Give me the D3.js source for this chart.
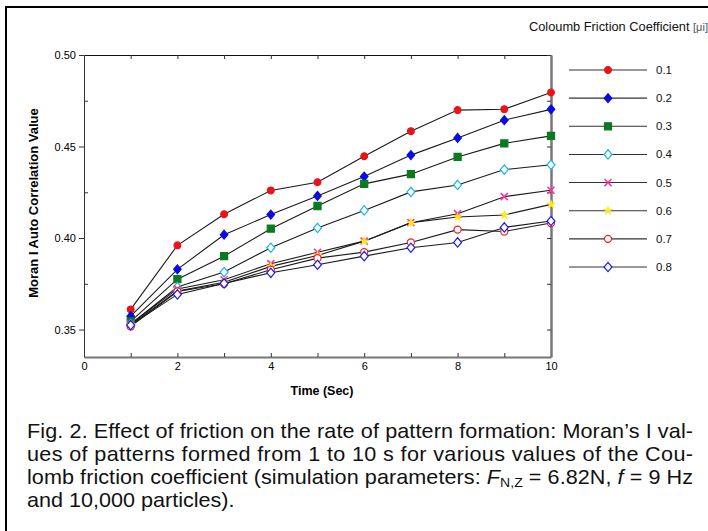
<!DOCTYPE html>
<html><head><meta charset="utf-8">
<script src="https://cdn.jsdelivr.net/npm/d3@7"></script>
<style>body{margin:0;background:#fff}svg{display:block;font-family:"Liberation Sans",Arial,sans-serif}</style>
</head><body><svg id="c" width="708" height="531"></svg>
<script>
const times = [1,2,3,4,5,6,7,8,9,10];
const seriesNames = ["0.1","0.2","0.3","0.4","0.5","0.6","0.7","0.8"];
const mu01 = [0.361,0.396,0.413,0.426,0.4305,0.4447,0.4584,0.4699,0.4704,0.4795];
const mu02 = [0.3573,0.3829,0.4018,0.4128,0.423,0.4336,0.4453,0.4547,0.4644,0.4703];
const mu03 = [0.3545,0.3775,0.3901,0.4051,0.4175,0.4296,0.4349,0.4443,0.4517,0.4558];
const mu04 = [0.353,0.3732,0.3814,0.3947,0.4055,0.4151,0.4252,0.429,0.4374,0.44];
const mu05 = [0.353,0.3722,0.3772,0.386,0.3922,0.3983,0.4084,0.4133,0.4226,0.4261];
const mu06 = [0.3525,0.371,0.3758,0.3845,0.3905,0.3983,0.4084,0.4115,0.4126,0.4184];
const mu07 = [0.3517,0.3708,0.375,0.3827,0.389,0.3923,0.3976,0.4046,0.4036,0.4082];
const mu08 = [0.3524,0.3692,0.3752,0.381,0.3854,0.3901,0.3947,0.3976,0.4058,0.4093];
const xTicks = [0,2,4,6,8,10];
const yTicks = [0.35,0.40,0.45,0.50];
const yMinor = [0.375,0.425,0.475];
const captionLines = [
 "Fig. 2. Effect of friction on the rate of pattern formation: Moran\u2019s I val-",
 "ues of patterns formed from 1 to 10 s for various values of the Cou-",
 "lomb friction coefficient (simulation parameters: ",
 "and 10,000 particles)."
];

const allSeries = [mu01,mu02,mu03,mu04,mu05,mu06,mu07,mu08];
const styles = [
 {shape:"circle", fill:"#e8141c", stroke:"#e8141c", size:36},
 {shape:"diamond", fill:"#0a0ae6", stroke:"#0a0ae6", size:38},
 {shape:"square", fill:"#0a7a1e", stroke:"#0a7a1e", size:50},
 {shape:"diamond", fill:"#fff", stroke:"#1ab4ea", size:42},
 {shape:"cross", fill:"none", stroke:"#ff3399", size:34},
 {shape:"star", fill:"#ffe81a", stroke:"#ffe81a", size:14},
 {shape:"circle", fill:"#fff", stroke:"#ee2020", size:40},
 {shape:"diamond", fill:"#fff", stroke:"#1c1cee", size:42}
];

const svg = d3.select("#c");
const x = d3.scaleLinear().domain([0,10]).range([84,551]);
const y = d3.scaleLinear().domain([0.335,0.50]).range([357,55]);

svg.append("path").attr("d","M6,531V7H708").attr("fill","none").attr("stroke","#000").attr("stroke-width",2);

function sym(s){
  if(s.shape==="circle") return d3.symbol(d3.symbolCircle, s.size)();
  if(s.shape==="square") return d3.symbol(d3.symbolSquare, s.size)();
  if(s.shape==="star") return d3.symbol(d3.symbolStar, s.size)();
  if(s.shape==="cross") return d3.symbol(d3.symbolX, s.size)();
  const r = Math.sqrt(s.size)*0.72;
  return `M0,${-r}L${r*0.85},0L0,${r}L${-r*0.85},0Z`;
}

const gB = svg.append("g").attr("transform","translate(0,357)")
  .call(d3.axisBottom(x).tickValues(d3.range(0,11)).tickSizeInner(-4).tickSizeOuter(0).tickPadding(5)
    .tickFormat(d=> xTicks.includes(d) ? d3.format("d")(d) : ""));
const gT = svg.append("g").attr("transform","translate(0,55)")
  .call(d3.axisTop(x).tickValues(d3.range(1,10)).tickSizeInner(-4).tickSizeOuter(0).tickFormat(""));
const gL = svg.append("g").attr("transform","translate(84,0)")
  .call(d3.axisLeft(y).tickValues(yTicks).tickSizeInner(5).tickSizeOuter(0).tickPadding(3).tickFormat(d3.format(".2f")));
const gLm = svg.append("g").attr("transform","translate(84,0)")
  .call(d3.axisLeft(y).tickValues(yMinor).tickSizeInner(-4).tickSizeOuter(0).tickFormat(""));
const gR = svg.append("g").attr("transform","translate(551,0)")
  .call(d3.axisRight(y).tickValues(yTicks.concat(yMinor)).tickSizeInner(-4).tickSizeOuter(0).tickFormat(""));
[gB,gT,gL,gLm,gR].forEach(g=>{
  g.selectAll("text").attr("font-size",11).attr("fill","#000").attr("font-family","Liberation Sans, Arial, sans-serif");
  g.selectAll("line").attr("stroke","#333");
});
gLm.select(".domain").remove();
gB.select(".domain").attr("stroke","#777").attr("stroke-width",2);
gR.select(".domain").attr("stroke","#777").attr("stroke-width",2.5);
gT.select(".domain").attr("stroke","#111").attr("stroke-width",1);
gL.select(".domain").attr("stroke","#333").attr("stroke-width",1);

svg.append("text").attr("x",322).attr("y",395).attr("text-anchor","middle")
  .attr("font-size",12.5).attr("font-weight","bold").text("Time (Sec)");
svg.append("text").attr("transform","translate(38,203) rotate(-90)").attr("text-anchor","middle")
  .attr("font-size",13).attr("font-weight","bold").text("Moran I Auto Correlation Value");

const line = d3.line().x((d,i)=>x(times[i])).y(d=>y(d));
allSeries.forEach((vals,k)=>{
  svg.append("path").datum(vals).attr("d",line).attr("fill","none").attr("stroke","#1a1a1a").attr("stroke-width",1.1);
});
allSeries.forEach((vals,k)=>{
  const s = styles[k];
  svg.append("g").selectAll("path").data(vals).join("path")
    .attr("d",sym(s)).attr("transform",(d,i)=>`translate(${x(times[i])},${y(d)})`)
    .attr("fill",s.fill).attr("stroke",s.stroke).attr("stroke-width",s.shape==="cross"?1.6:1.2);
});

const lt = svg.append("text").attr("x",529).attr("y",31).attr("font-size",12.8).attr("fill","#111");
lt.append("tspan").text("Coloumb Friction Coefficient ");
lt.append("tspan").attr("font-size",11).attr("fill","#555").text("[\u03bci]");
const ly = d3.scalePoint().domain(seriesNames).range([70,267]);
seriesNames.forEach((n,k)=>{
  const yy = ly(n), s = styles[k];
  svg.append("line").attr("x1",569).attr("x2",647).attr("y1",yy).attr("y2",yy).attr("stroke","#333").attr("stroke-width",1.1);
  svg.append("path").attr("d",sym(s)).attr("transform",`translate(608,${yy})`)
    .attr("fill",s.fill).attr("stroke",s.stroke).attr("stroke-width",s.shape==="cross"?1.6:1.2);
  svg.append("text").attr("x",656).attr("y",yy+4).attr("font-size",11.5).attr("fill","#111").text(n);
});

// caption
const sx = 1.08;
const cap = svg.append("g").attr("transform",`scale(${sx},1)`).attr("font-size",20).attr("fill","#111");
const base = [438,461,484,507];
const cx = 27/sx, cw = 666/sx;
cap.append("text").attr("x",cx).attr("y",base[0]).attr("textLength",cw).attr("lengthAdjust","spacing").text(captionLines[0]);
cap.append("text").attr("x",cx).attr("y",base[1]).attr("textLength",cw).attr("lengthAdjust","spacing").text(captionLines[1]);
const t3 = cap.append("text").attr("x",cx).attr("y",base[2]).attr("textLength",cw).attr("lengthAdjust","spacing");
t3.append("tspan").text(captionLines[2]);
t3.append("tspan").attr("font-style","italic").text("F");
t3.append("tspan").attr("font-size",13).attr("dy",3).text("N,Z");
t3.append("tspan").attr("dy",-3).text(" = 6.82N, ");
t3.append("tspan").attr("font-style","italic").text("f");
t3.append("tspan").text(" = 9 Hz");
cap.append("text").attr("x",cx).attr("y",base[3]).text(captionLines[3]);
</script></body></html>
